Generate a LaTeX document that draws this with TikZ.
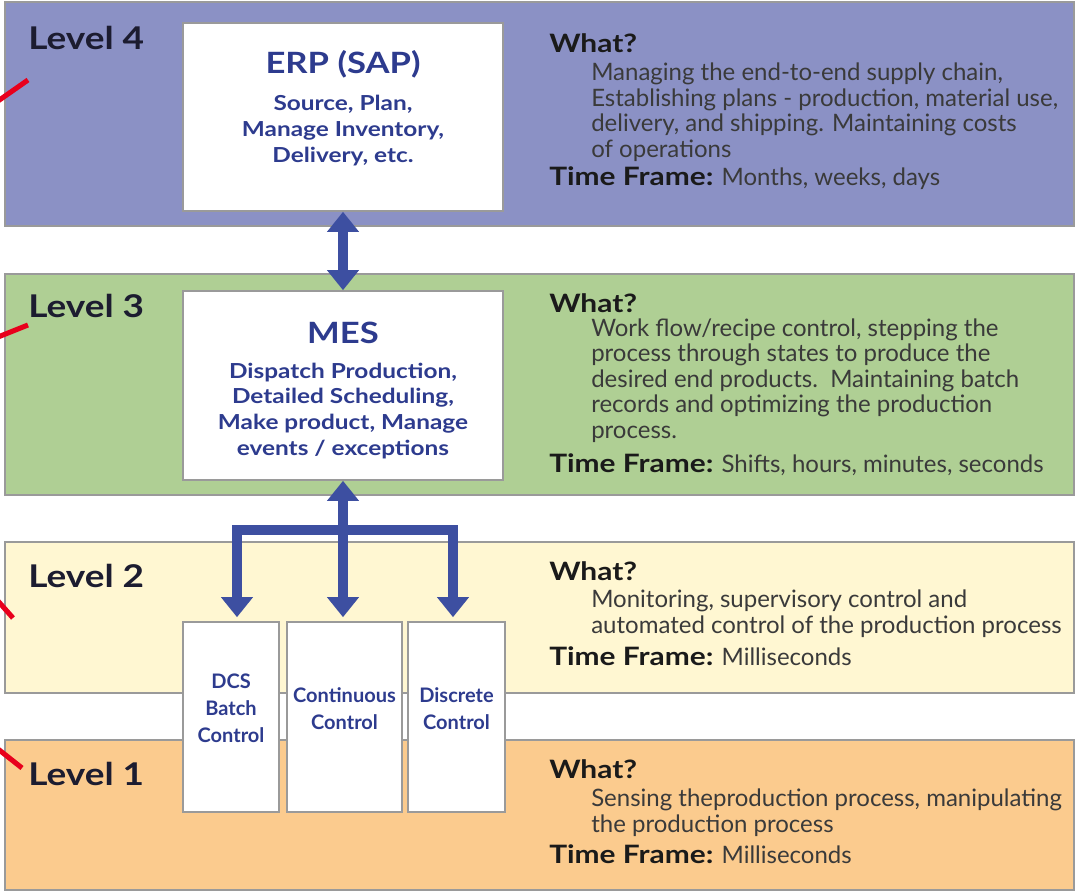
\documentclass[tikz,border=0pt]{standalone}
\usepackage{fontspec}
\setmainfont{Lato}
\newfontfamily\boldwide[FakeStretch=1.18,BoldFont={Lato Bold}]{Lato}
\usetikzlibrary{arrows.meta}
\definecolor{bandfour}{HTML}{8B91C5}
\definecolor{bandthree}{HTML}{AFCF94}
\definecolor{bandtwo}{HTML}{FFF7D2}
\definecolor{bandone}{HTML}{FBCB8E}
\definecolor{arrowblue}{HTML}{3D4FA1}
\definecolor{boxtextblue}{HTML}{2D3B8E}
\definecolor{bordergray}{HTML}{9A9A9A}
\definecolor{marker}{HTML}{E8001C}
\definecolor{bodytext}{HTML}{3A3A3A}
\definecolor{headtext}{HTML}{1A1A1A}
\definecolor{leveltext}{HTML}{1C1C30}
\tikzset{
  band/.style={draw=bordergray, line width=1.2pt},
  whitebox/.style={draw=bordergray, fill=white, line width=1.2pt, inner sep=0pt},
  levellabel/.style={anchor=base west, inner sep=0pt, font=\boldwide\bfseries\fontsize{23.5}{28}\selectfont, text=leveltext},
  whathead/.style={anchor=base west, inner sep=0pt, font=\boldwide\bfseries\fontsize{19}{23}\selectfont, text=headtext},
  whatbody/.style={anchor=base west, inner sep=0pt, align=left, font=\fontsize{18}{19.1}\selectfont, text=bodytext},
  timeline/.style={anchor=base west, inner sep=0pt, font=\fontsize{18}{19}\selectfont, text=bodytext},
  boxtitle/.style={anchor=base, inner sep=0pt, font=\boldwide\bfseries\fontsize{22}{27}\selectfont, text=boxtextblue},
  boxbody/.style={anchor=base, inner sep=0pt, align=center, font=\boldwide\bfseries\fontsize{15.5}{19.2}\selectfont, text=boxtextblue},
  smallbody/.style={anchor=base, inner sep=0pt, align=center, font=\bfseries\fontsize{15}{20.25}\selectfont, text=boxtextblue},
  biarr/.style={draw=arrowblue, line width=7.5pt, line join=miter,
    {Triangle[width=23pt,length=15pt]}-{Triangle[width=23pt,length=15pt]}},
  redmark/.style={draw=marker, line width=3.8pt}
}
\newcommand{\tf}[1]{{\boldwide\bfseries\fontsize{19}{23}\selectfont\color{headtext}Time Frame:} #1}
\begin{document}
\begin{tikzpicture}[x=0.75pt,y=-0.75pt]
\useasboundingbox (0,0) rectangle (1076,894);
\fill[white] (0,0) rectangle (1076,894);

% bands
\path[band, fill=bandfour]  (5,2)   rectangle (1074,226);
\path[band, fill=bandthree] (5,274) rectangle (1074,495);
\path[band, fill=bandtwo]   (5,542) rectangle (1074,693);
\path[band, fill=bandone]   (5,740) rectangle (1074,890);

% red marks
\draw[redmark] (-2,101) -- (28,80);
\draw[redmark] (-2,337) -- (28,325);
\draw[redmark] (-2,601) -- (13,618);
\draw[redmark] (-2,749) -- (22,768);

% level labels
\node[levellabel] (l4) at (28,49)  {Level 4};
\node[levellabel] (l3) at (28,317) {Level 3};
\node[levellabel] (l2) at (28,587) {Level 2};
\node[levellabel] (l1) at (28,785) {Level 1};

% boxes
\node[whitebox, minimum width=240pt, minimum height=141pt] (erp) at (343,117) {};
\node[whitebox, minimum width=240pt, minimum height=141.75pt] (mes) at (343,385.5) {};
\node[whitebox, minimum width=72pt, minimum height=142.5pt] (dcs) at (231,717) {};
\node[whitebox, minimum width=86.25pt, minimum height=142.5pt] (cont) at (344.5,717) {};
\node[whitebox, minimum width=72.75pt, minimum height=142.5pt] (disc) at (456.5,717) {};

% box texts (base anchor = baseline of last line)
\node[boxtitle] (erptitle) at (343,73) {ERP (SAP)};
\node[boxbody] (erpbody) at (343,162) {Source, Plan,\\Manage Inventory,\\Delivery, etc.};
\node[boxtitle] (mestitle) at (343,343) {MES};
\node[boxbody] (mesbody) at (343,455) {Dispatch Production,\\Detailed Scheduling,\\Make product, Manage\\events / exceptions};
\node[smallbody] (dcstext) at (231,742) {DCS\\Batch\\Control};
\node[smallbody] (conttext) at (344.5,729) {Continuous\\Control};
\node[smallbody] (disctext) at (456.5,729) {Discrete\\Control};

% arrows
\draw[biarr] (erp.south) -- (mes.north);
\coordinate (barleft) at (237,530);
\coordinate (barright) at (453,530);
\draw[biarr] ([yshift=3pt]barleft |- dcs.north) -- (barleft) -- (barright) -- ([yshift=3pt]barright |- disc.north);
\draw[biarr] (mes.south) -- ([yshift=3pt]mes.south |- cont.north);

% right-hand texts: level 4
\node[whathead] (w4) at (549,52) {What?};
\node[whatbody] (b4) at (591,157) {Managing the end-to-end supply chain,\\Establishing plans - production, material use,\\delivery, and shipping. Maintaining costs\\of operations};
\node[timeline] (t4) at (549,185) {\tf{Months, weeks, days}};

% level 3
\node[whathead] (w3) at (549,312) {What?};
\node[whatbody] (b3) at (591,438) {Work flow/recipe control, stepping the\\process through states to produce the\\desired end products.\ \ Maintaining batch\\records and optimizing the production\\process.};
\node[timeline] (t3) at (549,472) {\tf{Shifts, hours, minutes, seconds}};

% level 2
\node[whathead] (w2) at (549,580) {What?};
\node[whatbody] (b2) at (591,633) {Monitoring, supervisory control and\\automated control of the production process};
\node[timeline] (t2) at (549,665) {\tf{Milliseconds}};

% level 1
\node[whathead] (w1) at (549,778) {What?};
\node[whatbody] (b1) at (591,832) {Sensing theproduction process, manipulating\\the production process};
\node[timeline] (t1) at (549,863) {\tf{Milliseconds}};
\end{tikzpicture}
\end{document}
